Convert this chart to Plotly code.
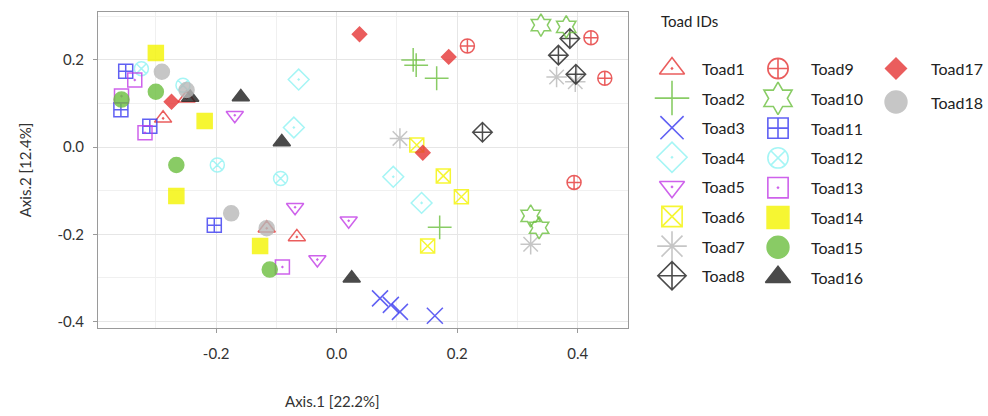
import plotly.graph_objects as go

# ---------------- data ----------------
toad_names = [f"Toad{i}" for i in range(1, 19)]

sample_toad = [t for t in range(1, 19) for _ in range(4)]
axis1_values = [
    -0.288, -0.249, -0.116, -0.066,   # Toad1
    0.127, 0.132, 0.166, 0.171,       # Toad2
    0.072, 0.090, 0.105, 0.163,       # Toad3
    -0.063, -0.071, 0.094, 0.141,     # Toad4
    -0.169, -0.069, 0.020, -0.032,    # Toad5
    0.133, 0.177, 0.207, 0.151,       # Toad6
    0.105, 0.365, 0.396, 0.322,       # Toad7
    0.387, 0.368, 0.397, 0.242,       # Toad8
    0.217, 0.422, 0.445, 0.394,       # Toad9
    0.339, 0.381, 0.322, 0.336,       # Toad10
    -0.350, -0.358, -0.310, -0.203,   # Toad11
    -0.324, -0.255, -0.198, -0.093,   # Toad12
    -0.335, -0.318, -0.357, -0.090,   # Toad13
    -0.300, -0.219, -0.266, -0.127,   # Toad14
    -0.300, -0.357, -0.266, -0.111,   # Toad15
    -0.243, -0.159, -0.091, 0.025,    # Toad16
    -0.274, 0.038, 0.186, 0.143,      # Toad17
    -0.290, -0.249, -0.175, -0.116,   # Toad18
]
axis2_values = [
    0.066, 0.112, -0.186, -0.206,
    0.200, 0.188, 0.158, -0.184,
    -0.347, -0.362, -0.378, -0.387,
    0.155, 0.045, -0.068, -0.128,
    0.073, -0.138, -0.169, -0.258,
    0.005, -0.066, -0.114, -0.227,
    0.020, 0.161, 0.150, -0.223,
    0.249, 0.211, 0.167, 0.034,
    0.232, 0.251, 0.158, -0.081,
    0.280, 0.276, -0.158, -0.185,
    0.174, 0.086, 0.048, -0.179,
    0.180, 0.142, -0.041, -0.072,
    0.154, 0.033, 0.117, -0.275,
    0.216, 0.060, -0.112, -0.227,
    0.127, 0.109, -0.041, -0.281,
    0.114, 0.115, 0.012, -0.301,
    0.104, 0.259, 0.207, -0.013,
    0.173, 0.131, -0.152, -0.186,
]
x_ticks = [-0.2, 0.0, 0.2, 0.4]
y_ticks = [-0.4, -0.2, 0.0, 0.2]
x_title = "Axis.1 [22.2%]"
y_title = "Axis.2 [12.4%]"
legend_title = "Toad IDs"

# ---------------- styles ----------------
RED, GREEN, BLUE, CYAN = "#E53535", "#6CBF3F", "#3838F0", "#8EF2F2"
MAG, YEL, GRAY, BLACK = "#C23BE6", "#F4F400", "#B8B8B8", "#1E1E1E"
colors = [RED, GREEN, BLUE, CYAN, MAG, YEL, GRAY, BLACK,
          RED, GREEN, BLUE, CYAN, MAG, YEL, GREEN, BLACK, RED, GRAY]
symbols = ["triangle-up-open-dot", "cross-thin-open", "x-thin-open", "diamond-open-dot",
           "triangle-down-open-dot", "square-x-open", "asterisk-open", "diamond-cross-open",
           "circle-cross-open", "hexagram-open", "square-cross-open", "circle-x-open",
           "square-open-dot", "square", "circle", "triangle-up", "diamond", "circle"]
sizes = [15, 17, 16, 16, 15, 14, 17, 15, 14, 17, 14, 14, 14, 15, 15, 15, 11, 15]

FONT = "Lato, Carlito, 'Open Sans', sans-serif"

fig = go.Figure()

for k in range(18):
    xs = [axis1_values[i] for i in range(len(sample_toad)) if sample_toad[i] == k + 1]
    ys = [axis2_values[i] for i in range(len(sample_toad)) if sample_toad[i] == k + 1]
    fig.add_trace(go.Scatter(
        x=xs, y=ys, mode="markers", name=toad_names[k], showlegend=False,
        marker=dict(symbol=symbols[k], size=sizes[k], color=colors[k], opacity=0.8,
                    line=dict(color=colors[k], width=1.5)),
        xaxis="x", yaxis="y", cliponaxis=False,
    ))

# ---------------- custom legend (pixel-like coords on hidden axes) ----------------
col_marker_x = [672, 778, 896]
col_text_x = [700, 809, 929]
row_y0 = 68.5
row_dy = [29.6, 29.8, 33.5]
annotations = []
for k in range(18):
    col, row = k // 8, k % 8
    yy = row_y0 + row * row_dy[col]
    fig.add_trace(go.Scatter(
        x=[col_marker_x[col]], y=[yy], mode="markers", showlegend=False, hoverinfo="skip",
        marker=dict(symbol=symbols[k], size=sizes[k] * 1.45, color=colors[k], opacity=0.8,
                    line=dict(color=colors[k], width=1.6)),
        xaxis="x2", yaxis="y2", cliponaxis=False,
    ))
    annotations.append(dict(x=col_text_x[col], y=yy, xref="x2", yref="y2", text=toad_names[k],
                            showarrow=False, xanchor="left", yanchor="middle",
                            font=dict(family=FONT, size=16, color="#222222")))
annotations.append(dict(x=659, y=21, xref="x2", yref="y2", text=legend_title, showarrow=False,
                        xanchor="left", yanchor="middle",
                        font=dict(family=FONT, size=15, color="#222222")))

L, R, T, B = 98, 0, 12, 88
W, H = 988, 416
pw = W - L - R
ph = H - T - B
main_right = 628

# x-axis title placed like the reference (slightly left of the panel centre)
annotations.append(dict(x=(332 - L) / pw, y=(H - B - 401) / ph, xref="paper", yref="paper",
                        text=x_title, showarrow=False, xanchor="center", yanchor="middle",
                        font=dict(family=FONT, size=15, color="#333333")))

fig.update_layout(
    width=W, height=H,
    margin=dict(l=L, r=R, t=T, b=B),
    paper_bgcolor="white", plot_bgcolor="white",
    font=dict(family=FONT, color="#333333"),
    annotations=annotations,
    xaxis=dict(
        domain=[0, (main_right - L) / pw], range=[-0.396, 0.4835],
        tickvals=x_ticks, ticktext=[f"{v:.1f}" for v in x_ticks],
        showgrid=True, gridcolor="#E6E6E6", gridwidth=1,
        minor=dict(dtick=0.1, tick0=0, showgrid=True, gridcolor="#F0F0F0", gridwidth=1),
        showline=True, linecolor="#9A9A9A", linewidth=1, mirror=True,
        ticks="outside", ticklen=4, tickcolor="#9A9A9A",
        tickfont=dict(family=FONT, size=15, color="#333333"),
        ticklabelstandoff=8, zeroline=False,
    ),
    yaxis=dict(
        domain=[0, 1], range=[-0.415, 0.310],
        tickvals=y_ticks, ticktext=[f"{v:.1f}" for v in y_ticks],
        showgrid=True, gridcolor="#E6E6E6", gridwidth=1,
        minor=dict(dtick=0.1, tick0=0, showgrid=True, gridcolor="#F0F0F0", gridwidth=1),
        showline=True, linecolor="#9A9A9A", linewidth=1, mirror=True,
        ticks="outside", ticklen=4, tickcolor="#9A9A9A",
        tickfont=dict(family=FONT, size=15, color="#333333"),
        ticklabelstandoff=6, zeroline=False,
        title=dict(text=y_title, font=dict(family=FONT, size=15, color="#333333"),
                   standoff=22),
    ),
    xaxis2=dict(domain=[(640 - L) / pw, 1], range=[640, 988], visible=False, fixedrange=True),
    yaxis2=dict(domain=[0, 1], range=[H - B, T], visible=False, fixedrange=True),
)

fig.write_html("out.html")
